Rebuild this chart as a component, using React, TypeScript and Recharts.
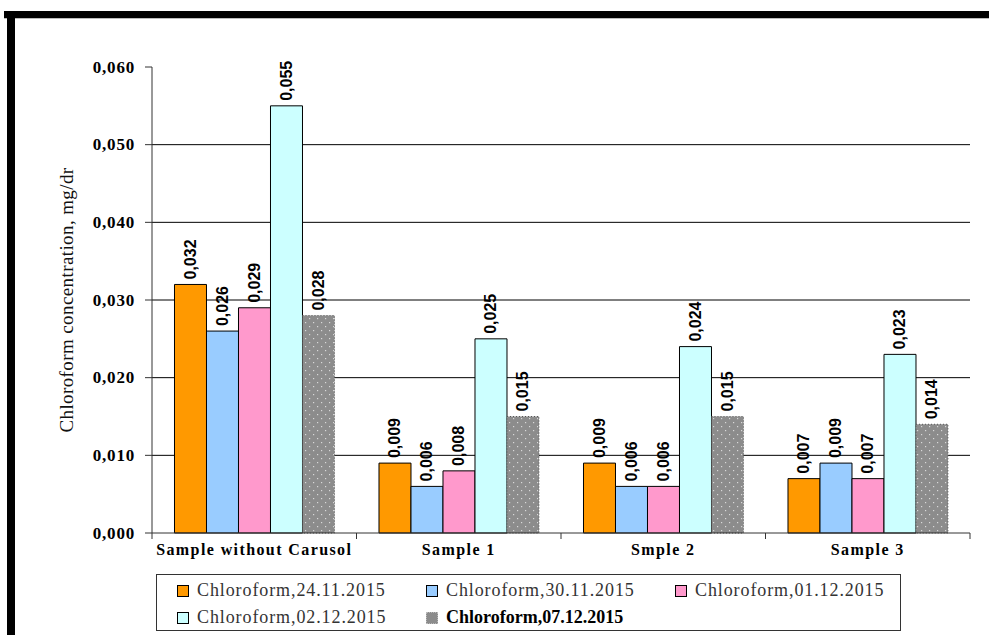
import React from 'react';
import { BarChart, Bar, XAxis, YAxis, CartesianGrid, Legend, LabelList, Label } from 'recharts';

const categories = ['Sample without Carusol', 'Sample 1', 'Smple 2', 'Sample 3'];
const seriesNames = [
  'Chloroform,24.11.2015',
  'Chloroform,30.11.2015',
  'Chloroform,01.12.2015',
  'Chloroform,02.12.2015',
  'Chloroform,07.12.2015',
];
const values2411 = [0.032, 0.009, 0.009, 0.007];
const values3011 = [0.026, 0.006, 0.006, 0.009];
const values0112 = [0.029, 0.008, 0.006, 0.007];
const values0212 = [0.055, 0.025, 0.024, 0.023];
const values0712 = [0.028, 0.015, 0.015, 0.014];
const yTicks = [0, 0.01, 0.02, 0.03, 0.04, 0.05, 0.06];
const gridValues = [0.01, 0.02, 0.03, 0.04, 0.05];
const yLabel = 'Chloroform concentration, mg/dr';

const seriesValues = [values2411, values3011, values0112, values0212, values0712];
const seriesKeys = ['s2411', 's3011', 's0112', 's0212', 's0712'];
const seriesFills = ['#FF9900', '#99CCFF', '#FF99CC', '#CCFFFF', 'url(#grayDots)'];
const legendSwatch = ['#FF9900', '#99CCFF', '#FF99CC', '#CCFFFF', '#8c8c8c'];

const data = categories.map((name, i) => {
  const row: any = { name };
  seriesKeys.forEach((k, j) => {
    row[k] = seriesValues[j][i];
  });
  return row;
});

const fmt = (v: number) => v.toFixed(3).replace('.', ',');

const SERIF = '"Liberation Serif", "Times New Roman", serif';
const SANS = '"Liberation Sans", Arial, sans-serif';

const YTick = (props: any) => {
  const { x, y, payload } = props;
  return (
    <text x={x} y={y} textAnchor="end" dominantBaseline="central" fontFamily={SERIF} fontWeight="bold" fontSize={17} letterSpacing={0.8} fill="#000">
      {fmt(payload.value)}
    </text>
  );
};

const XTick = (props: any) => {
  const { x, y, payload, index } = props;
  const off = payload.offset || 0;
  return (
    <g>
      <line x1={x - off} y1={y} x2={x - off} y2={y + 6} stroke="#333" />
      {index === categories.length - 1 && <line x1={x + off} y1={y} x2={x + off} y2={y + 6} stroke="#333" />}
      <text x={x} y={y + 22} textAnchor="middle" fontFamily={SERIF} fontWeight="bold" fontSize={16} letterSpacing={1.4} fill="#000">
        {payload.value}
      </text>
    </g>
  );
};

const BarValueLabel = (props: any) => {
  const { x, y, width, value } = props;
  const cx = x + width / 2;
  const ty = y - 5;
  return (
    <text x={cx} y={ty} transform={`rotate(-90 ${cx} ${ty})`} textAnchor="start" dominantBaseline="central" fontFamily={SANS} fontWeight="bold" fontSize={16} fill="#000">
      {fmt(value)}
    </text>
  );
};

const renderLegend = () => (
  <div
    style={{
      width: 745,
      height: 57,
      boxSizing: 'border-box',
      border: '1px solid #333',
      background: '#fff',
      display: 'grid',
      gridTemplateColumns: '249px 249px 227px',
      gridTemplateRows: '27px 27px',
      paddingLeft: 20,
      paddingTop: 2,
    }}
  >
    {seriesNames.map((n, i) => (
      <div key={n} style={{ display: 'flex', alignItems: 'center', whiteSpace: 'nowrap' }}>
        <span
          style={{
            display: 'inline-block',
            width: 12,
            height: 12,
            boxSizing: 'border-box',
            background: legendSwatch[i],
            border: i === 4 ? '1px dotted #bbb' : '1px solid #000',
            marginRight: 8,
          }}
        />
        <span
          style={{
            fontFamily: SERIF,
            fontSize: 18,
            letterSpacing: i === 4 ? 0 : 0.9,
            fontWeight: i === 4 ? 'bold' : 'normal',
            color: i === 4 ? '#000' : '#333',
          }}
        >
          {n}
        </span>
      </div>
    ))}
  </div>
);

const YAxisTitle = (props: any) => {
  const vb = props.viewBox || { x: 72, y: 67, width: 80, height: 466 };
  const cx = vb.x - 6;
  const cy = vb.y + vb.height / 2;
  return (
    <text x={cx} y={cy} transform={`rotate(-90 ${cx} ${cy})`} textAnchor="middle" dominantBaseline="central" fontFamily={SERIF} fontSize={19} letterSpacing={0.4} fill="#111">
      {yLabel}
    </text>
  );
};

export default function App() {
  return (
    <div style={{ position: 'absolute', left: 0, top: 0, width: 989, height: 635, background: '#fff', overflow: 'hidden' }}>
      <div style={{ position: 'absolute', left: 4, top: 11, width: 985, height: 7, background: '#000' }} />
      <div style={{ position: 'absolute', left: 4, top: 18, width: 985, height: 1, background: '#bbb' }} />
      <div style={{ position: 'absolute', left: 7, top: 11, width: 8, height: 624, background: '#000' }} />
      <div style={{ position: 'absolute', left: 0, top: 0 }}>
        <BarChart
          width={989}
          height={635}
          data={data}
          margin={{ top: 67, right: 19, bottom: 72, left: 72 }}
          barCategoryGap="11%"
          barGap={0}
        >
          <defs>
            <pattern id="grayDots" width="8" height="8" patternUnits="userSpaceOnUse">
              <rect width="8" height="8" fill="#8c8c8c" />
              <rect x="1" y="2" width="1.2" height="1.2" fill="#d8d8d8" />
              <rect x="5" y="6" width="1.2" height="1.2" fill="#d8d8d8" />
            </pattern>
          </defs>
          <CartesianGrid horizontal vertical={false} horizontalValues={gridValues} stroke="#000" strokeWidth={1} />
          <XAxis
            dataKey="name"
            type="category"
            height={30}
            axisLine={{ stroke: '#333' }}
            tickLine={false}
            tickSize={0}
            tickMargin={0}
            tick={<XTick />}
            interval={0}
          />
          <YAxis
            type="number"
            domain={[0, 0.06]}
            ticks={yTicks}
            width={80}
            axisLine={{ stroke: '#333' }}
            tickLine={{ stroke: '#333' }}
            tickSize={7}
            tickMargin={10}
            tick={<YTick />}
            interval={0}
          >
            <Label content={<YAxisTitle />} />
          </YAxis>
          {seriesKeys.map((k, i) => (
            <Bar
              key={k}
              dataKey={k}
              name={seriesNames[i]}
              fill={seriesFills[i]}
              stroke={i === 4 ? '#555' : '#000'}
              strokeWidth={1}
              strokeDasharray={i === 4 ? '1 2' : undefined}
              isAnimationActive={false}
            >
              <LabelList dataKey={k} content={<BarValueLabel />} />
            </Bar>
          ))}
          <Legend verticalAlign="middle" layout="horizontal" wrapperStyle={{ top: 574, left: 156, width: 745, height: 57 }} content={renderLegend} />
        </BarChart>
      </div>
    </div>
  );
}
